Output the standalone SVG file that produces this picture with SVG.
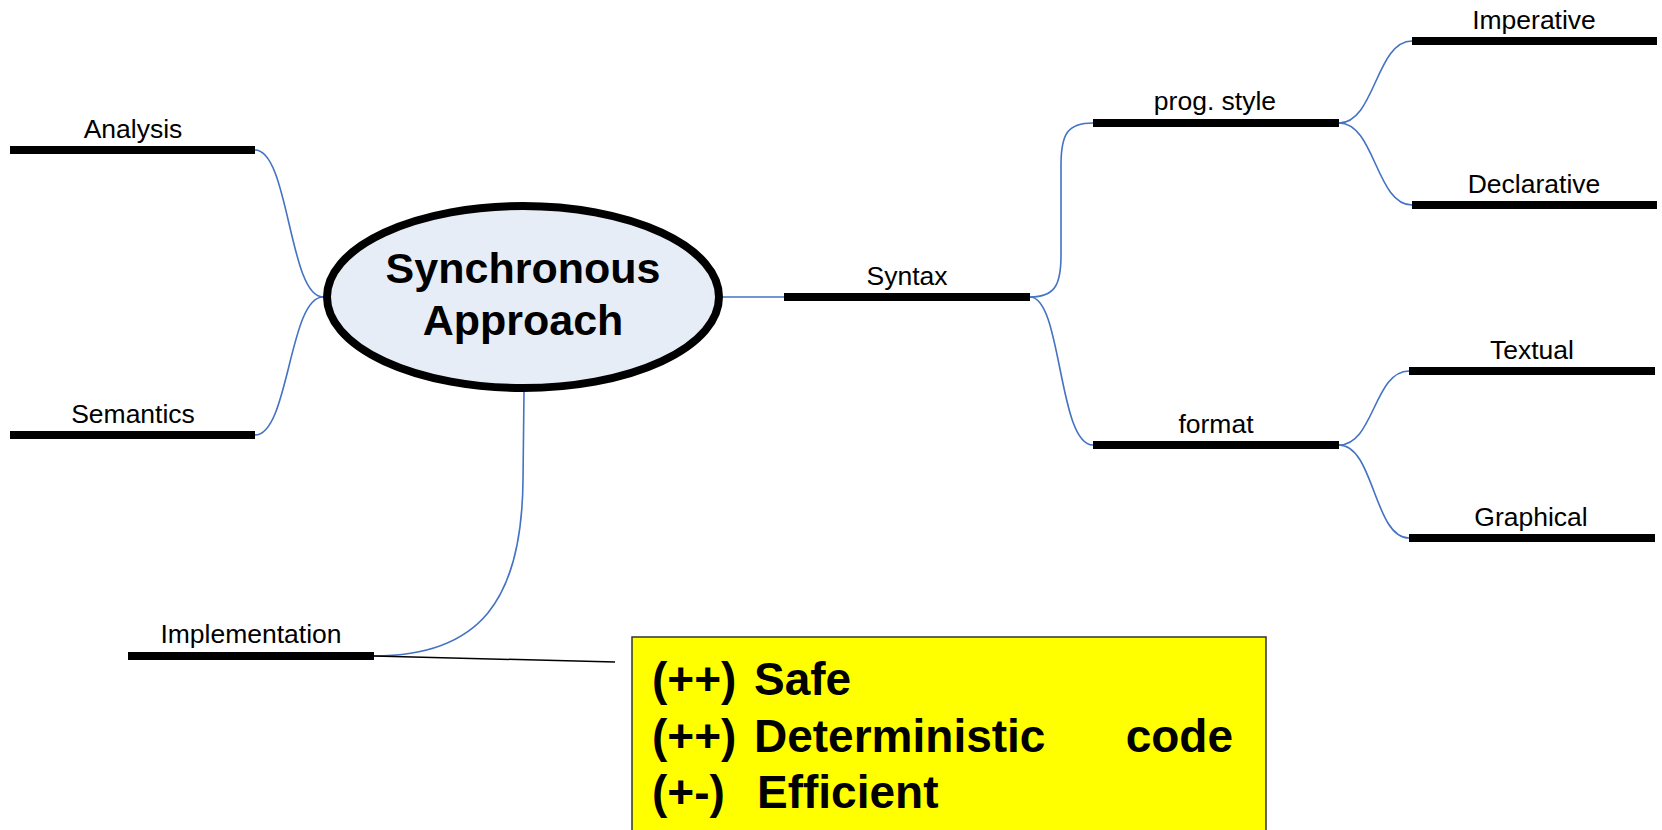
<svg xmlns="http://www.w3.org/2000/svg" width="1662" height="830" viewBox="0 0 1662 830">
<style>
.bar{stroke:#000;stroke-width:8;fill:none}
.lbl{font-family:"Liberation Sans",Arial,sans-serif;font-size:26.5px;fill:#000;text-anchor:middle}
.con{fill:none;stroke:#4472C4;stroke-width:1.6}
.title{font-family:"Liberation Sans",Arial,sans-serif;font-size:43px;font-weight:bold;fill:#000;text-anchor:middle}
.note{font-family:"Liberation Sans",Arial,sans-serif;font-size:46px;font-weight:bold;fill:#000}
</style>
<rect width="1662" height="830" fill="#fff"/>
<g id="connectors">
<path class="con" d="M255,150 C289,150 289,297 323,297"/>
<path class="con" d="M255,435 C289,435 289,297 323,297"/>
<path class="con" d="M723,297 L784,297"/>
<path class="con" d="M1030,297 C1055,297 1061,285 1061,255 L1061,165 C1061,133 1068,123 1093,123"/>
<path class="con" d="M1030,297 C1062,297 1058,445 1093,445"/>
<path class="con" d="M1339,123 C1375,123 1376,41 1412,41"/>
<path class="con" d="M1339,123 C1375,123 1376,205 1412,205"/>
<path class="con" d="M1339,445 C1374,445 1374,371 1409,371"/>
<path class="con" d="M1339,445 C1374,445 1374,538 1409,538"/>
<path class="con" d="M524,392 L523,480 C522,600 480,656 374,656"/>
<path d="M374,656 L615,662" fill="none" stroke="#000" stroke-width="1.5"/>
</g>
<g id="center">
<ellipse cx="523" cy="297" rx="196" ry="91" fill="#E7EDF7" stroke="#000" stroke-width="8"/>
<text class="title" x="523" y="283">Synchronous</text>
<text class="title" x="523" y="335">Approach</text>
</g>
<g id="analysis"><line class="bar" x1="10" y1="150" x2="255" y2="150"/><text class="lbl" x="133" y="138">Analysis</text></g>
<g id="semantics"><line class="bar" x1="10" y1="435" x2="255" y2="435"/><text class="lbl" x="133" y="423">Semantics</text></g>
<g id="implementation"><line class="bar" x1="128" y1="656" x2="374" y2="656"/><text class="lbl" x="251" y="643">Implementation</text></g>
<g id="syntax"><line class="bar" x1="784" y1="297" x2="1030" y2="297"/><text class="lbl" x="907" y="285">Syntax</text></g>
<g id="progstyle"><line class="bar" x1="1093" y1="123" x2="1339" y2="123"/><text class="lbl" x="1215" y="110">prog. style</text></g>
<g id="format"><line class="bar" x1="1093" y1="445" x2="1339" y2="445"/><text class="lbl" x="1216" y="433">format</text></g>
<g id="imperative"><line class="bar" x1="1412" y1="41" x2="1657" y2="41"/><text class="lbl" x="1534" y="29">Imperative</text></g>
<g id="declarative"><line class="bar" x1="1412" y1="205" x2="1657" y2="205"/><text class="lbl" x="1534" y="193">Declarative</text></g>
<g id="textual"><line class="bar" x1="1409" y1="371" x2="1655" y2="371"/><text class="lbl" x="1532" y="359">Textual</text></g>
<g id="graphical"><line class="bar" x1="1409" y1="538" x2="1655" y2="538"/><text class="lbl" x="1531" y="526">Graphical</text></g>
<g id="note">
<rect x="632" y="637" width="634" height="200" fill="#FFFF00" stroke="#333" stroke-width="1.5"/>
<text class="note" y="695"><tspan x="652">(++)</tspan><tspan x="754">Safe</tspan></text>
<text class="note" y="752"><tspan x="652">(++)</tspan><tspan x="754">Deterministic</tspan><tspan x="1233" text-anchor="end">code</tspan></text>
<text class="note" y="808"><tspan x="652">(+-)</tspan><tspan x="757">Efficient</tspan></text>
</g>
</svg>
